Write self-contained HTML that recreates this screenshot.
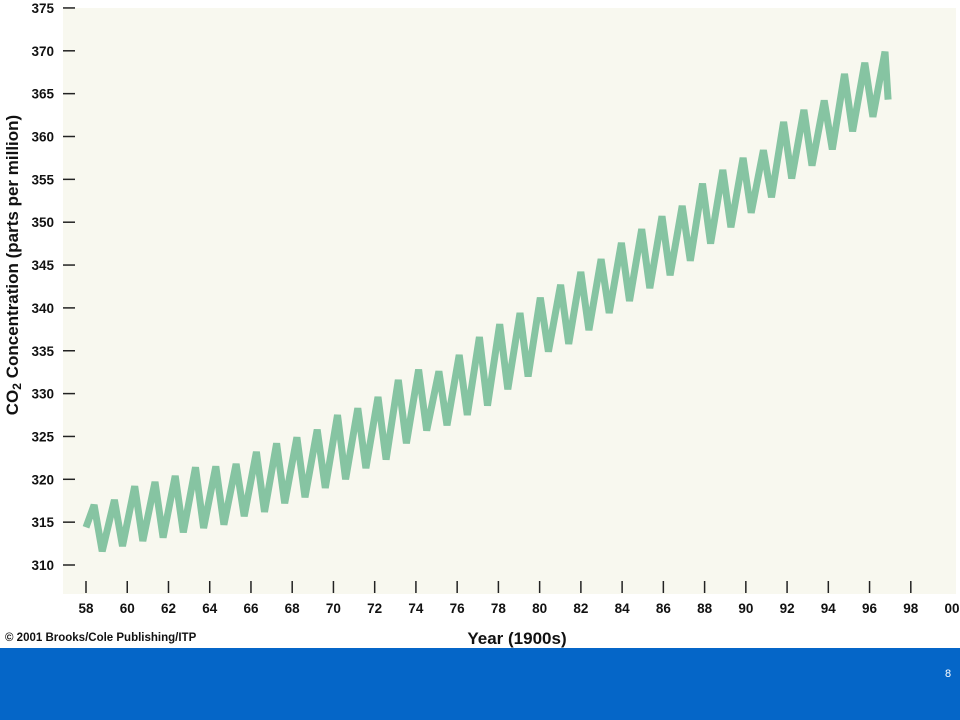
<!DOCTYPE html>
<html><head><meta charset="utf-8"><style>
html,body{margin:0;padding:0;background:#fff;width:960px;height:720px;overflow:hidden}
svg text{font-family:"Liberation Sans",Arial,sans-serif;font-weight:bold;fill:#111}
</style></head><body>
<svg id="chart" width="960" height="720" viewBox="0 0 960 720">
<rect x="63" y="8" width="893" height="586" fill="#f8f8ef"/>
<g id="yaxis"></g>
<g id="xaxis"></g>
<path id="line" fill="none" stroke="#86c4a2" stroke-width="7" stroke-linejoin="miter" stroke-miterlimit="3"/>
<text transform="translate(18,265) rotate(-90)" text-anchor="middle" font-size="17">CO<tspan font-size="12" dy="3">2</tspan><tspan dy="-3"> Concentration (parts per million)</tspan></text>
<text x="517" y="644" text-anchor="middle" font-size="17">Year (1900s)</text>
<text x="5" y="641" font-size="11.5">© 2001 Brooks/Cole Publishing/ITP</text>
<rect x="0" y="648" width="960" height="72" fill="#0566c8"/>
<text x="945" y="677" font-size="11" style="fill:#fff;font-weight:normal">8</text>
</svg>
<script>
const yTicks=[310,315,320,325,330,335,340,345,350,355,360,365,370,375];
const xTicks=[58,60,62,64,66,68,70,72,74,76,78,80,82,84,86,88,90,92,94,96,98,100];
const xTickLabels=["58","60","62","64","66","68","70","72","74","76","78","80","82","84","86","88","90","92","94","96","98","00"];
const peakYears=[58,59,60,61,62,63,64,65,66,67,68,69,70,71,72,73,74,75,76,77,78,79,80,81,82,83,84,85,86,87,88,89,90,91,92,93,94,95,96,97];
const peakValues=[317,317.6,319.2,319.7,320.4,321.4,321.5,321.8,323.2,324.2,324.9,325.8,327.5,328.3,329.6,331.6,332.8,332.6,334.5,336.6,338.1,339.4,341.2,342.7,344.2,345.7,347.6,349.2,350.7,351.9,354.5,356.1,357.5,358.4,361.7,363.1,364.2,367.3,368.6,369.9];
const troughValues=[311.6,312.2,312.8,313.2,313.8,314.3,314.7,315.7,316.2,317.2,317.9,319,320,321.3,322.3,324.2,325.7,326.3,327.5,328.6,330.5,332,334.9,335.8,337.4,339.4,340.8,342.3,343.8,345.5,347.5,349.4,351.1,352.9,355.1,356.6,358.5,360.6,362.3];
const startValue=314.4, endValue=364.3, endYear=97.55;
const NS="http://www.w3.org/2000/svg";
const x=v=>86+(v-58)*20.62;
const xd=v=>86+(v-58)*20.28;
const y=v=>565-(v-310)*8.57;
const ya=document.getElementById('yaxis'), xa=document.getElementById('xaxis');
yTicks.forEach(t=>{
  const l=document.createElementNS(NS,'line');
  l.setAttribute('x1',63);l.setAttribute('x2',75);l.setAttribute('y1',y(t));l.setAttribute('y2',y(t));
  l.setAttribute('stroke','#222');l.setAttribute('stroke-width','1.5');
  
  
  ya.appendChild(l);
  const tx=document.createElementNS(NS,'text');
  tx.setAttribute('x',54);tx.setAttribute('y',y(t)+5);tx.setAttribute('text-anchor','end');tx.setAttribute('font-size','13.5');
  tx.textContent=t;
  
  
  ya.appendChild(tx);
});
xTicks.forEach((t,i)=>{
  if(t<100){
    const l=document.createElementNS(NS,'line');
    l.setAttribute('x1',x(t));l.setAttribute('x2',x(t));l.setAttribute('y1',581);l.setAttribute('y2',593);
    l.setAttribute('stroke','#222');l.setAttribute('stroke-width','1.5');
    
    
    xa.appendChild(l);
  }
  const tx=document.createElementNS(NS,'text');
  tx.setAttribute('x',x(t));tx.setAttribute('y',613);tx.setAttribute('text-anchor','middle');tx.setAttribute('font-size','13.5');
  tx.textContent=xTickLabels[i];
  
  
  xa.appendChild(tx);
});
let pts=[[58,startValue]];
peakYears.forEach((yr,i)=>{
  pts.push([yr+0.4,peakValues[i]]);
  if(i<troughValues.length) pts.push([yr+0.8,troughValues[i]]);
});
pts.push([endYear,endValue]);
document.getElementById('line').setAttribute('d',pts.map((p,i)=>(i?'L':'M')+xd(p[0]).toFixed(1)+' '+y(p[1]).toFixed(1)).join(' '));
</script>
</body></html>
